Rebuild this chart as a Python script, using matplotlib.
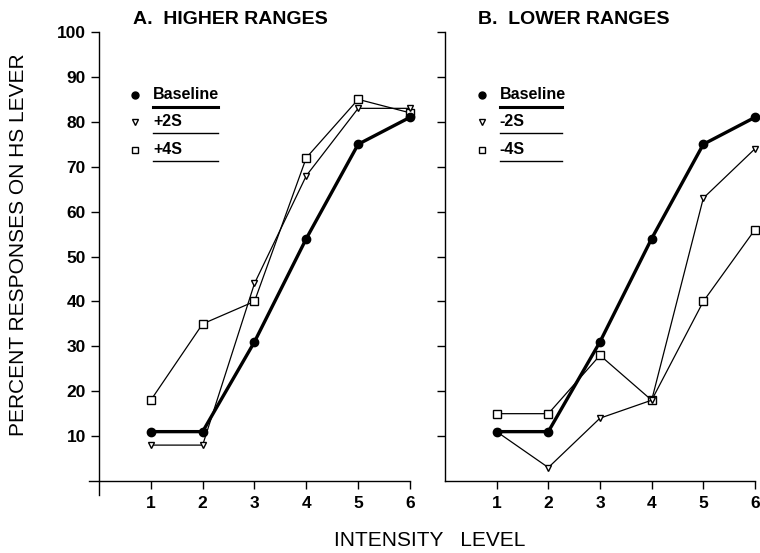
import numpy as np
import matplotlib
matplotlib.use('Agg')
import matplotlib.pyplot as plt

plt.rcParams['font.family'] = ['Liberation Sans', 'DejaVu Sans']

# data
levels = [1, 2, 3, 4, 5, 6]
baseline = [11, 11, 31, 54, 75, 81]
plus2s = [8, 8, 44, 68, 83, 83]
plus4s = [18, 35, 40, 72, 85, 82]
minus2s = [11, 3, 14, 18, 63, 74]
minus4s = [15, 15, 28, 18, 40, 56]
yticks = [10, 20, 30, 40, 50, 60, 70, 80, 90, 100]

W, H = 760, 553
fig = plt.figure(figsize=(W / 100, H / 100), dpi=100)

def px_axes(left, top, right, bottom):
    return fig.add_axes([left / W, 1 - bottom / H, (right - left) / W, (bottom - top) / H])

# left panel: x -0.2..6 -> 88.6..410, y -3..100 -> 494.5..32
ax1 = px_axes(88.6, 32, 410, 494.5)
ax1.set_xlim(-0.2, 6)
ax1.set_ylim(-3, 100)
# right panel: x 0..6 -> 445..755
ax2 = px_axes(445, 32, 755, 494.5)
ax2.set_xlim(0, 6)
ax2.set_ylim(-3, 100)

for ax in (ax1, ax2):
    for s in ('top', 'right'):
        ax.spines[s].set_visible(False)
    ax.spines['left'].set_position(('data', 0))
    ax.spines['bottom'].set_position(('data', 0))
    ax.spines['left'].set_linewidth(1.0)
    ax.spines['bottom'].set_linewidth(1.0)
    ax.set_xticks(levels)
    ax.set_yticks(yticks)
    ax.tick_params(direction='out', length=6, width=1, labelsize=12.5)
    ax.tick_params(axis='x', pad=5)
    ax.patch.set_visible(False)
    for lab in ax.get_xticklabels() + ax.get_yticklabels():
        lab.set_fontweight('bold')
ax2.spines['left'].set_bounds(0, 100)
ax2.tick_params(axis='y', labelleft=False)

def series(ax, y, marker, lw, ms, filled):
    ax.plot(levels, y, color='black', lw=lw, marker=marker, ms=ms,
            mfc='black' if filled else 'white', mec='black', mew=1.0,
            clip_on=False, zorder=3 if filled else 2)

series(ax1, plus4s, 's', 0.9, 5.5, False)
series(ax1, plus2s, 'v', 0.9, 5, False)
series(ax1, baseline, 'o', 2.4, 6, True)

series(ax2, minus4s, 's', 0.9, 5.5, False)
series(ax2, minus2s, 'v', 0.9, 5, False)
series(ax2, baseline, 'o', 2.4, 6, True)

def legend(ax, names, mx, tx, tx2):
    ys = [86, 80, 73.8]
    marks = [('o', 'black', 5), ('v', 'white', 4.5), ('s', 'white', 4.5)]
    for (name, y, (m, fc, ms)) in zip(names, ys, marks):
        ax.plot([mx], [y], marker=m, mfc=fc, mec='black', ms=ms, mew=1.0, clip_on=False)
        ax.text(tx, y, name, fontsize=11.5, fontweight='bold', va='center', ha='left')
        lw = 2.2 if name == 'Baseline' else 1.0
        ax.plot([tx, tx2], [y - 2.6, y - 2.6], color='black', lw=lw, clip_on=False)

legend(ax1, ['Baseline', '+2S', '+4S'], 0.69, 1.04, 2.3)
legend(ax2, ['Baseline', '-2S', '-4S'], 0.72, 1.06, 2.27)

fig.text(133 / W, 1 - 20 / H, 'A.  HIGHER RANGES', fontsize=14, fontweight='bold', va='center', ha='left')
fig.text(478 / W, 1 - 20 / H, 'B.  LOWER RANGES', fontsize=14, fontweight='bold', va='center', ha='left')
fig.text(19 / W, 1 - 245 / H, 'PERCENT RESPONSES ON HS LEVER', fontsize=15, rotation=90,
         va='center', ha='center')
fig.text(430 / W, 1 - 541 / H, 'INTENSITY   LEVEL', fontsize=15, va='center', ha='center')

fig.savefig('out.png', dpi=100)
